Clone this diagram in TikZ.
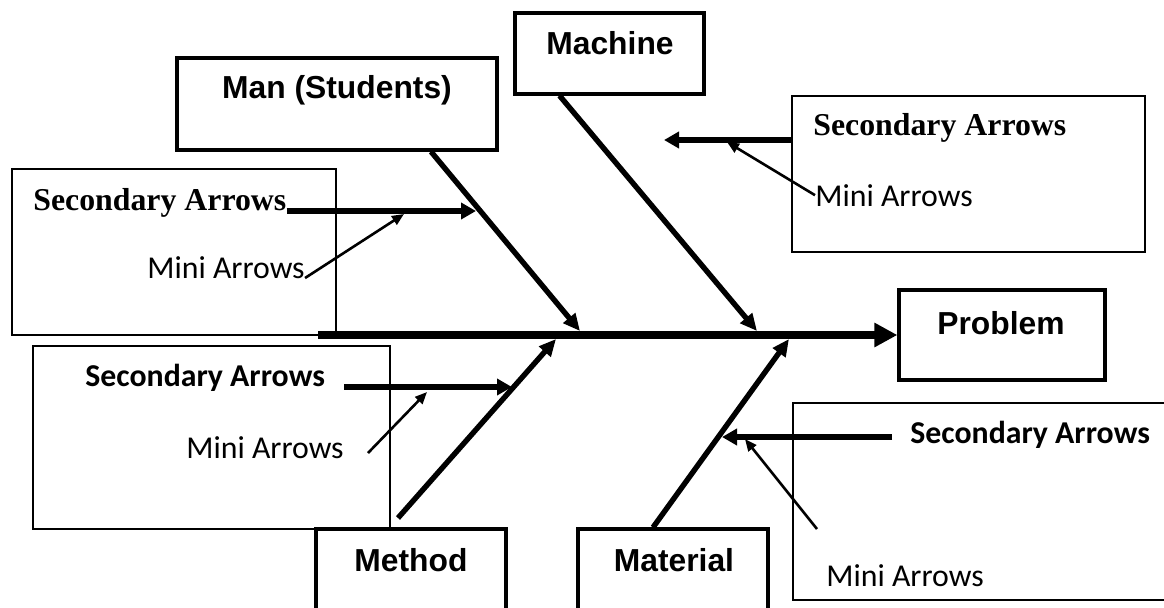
\documentclass[tikz,border=0pt]{standalone}
\usepackage{fontspec}
\newfontfamily\headfont{Liberation Sans}
\newfontfamily\serifhead{Liberation Serif}
\newfontfamily\calibri{Carlito}
\usetikzlibrary{arrows.meta,fit,calc}

\begin{document}
\begin{tikzpicture}[
    x=0.5pt, y=-0.5pt,
    catbox/.style={draw, line width=1.6pt, inner sep=0pt},
    notebox/.style={draw, line width=0.7pt, inner sep=0pt},
    cattext/.style={font=\headfont\bfseries\fontsize{15.9}{19}\selectfont, inner sep=0pt},
    secserif/.style={font=\serifhead\bfseries\fontsize{15.9}{19}\selectfont, inner sep=0pt, anchor=base west},
    secsans/.style={font=\calibri\bfseries\fontsize{15.9}{19}\selectfont, inner sep=0pt, anchor=base west},
    minitext/.style={font=\calibri\fontsize{15.9}{19}\selectfont, inner sep=0pt, anchor=base west},
    spine/.style={-{Triangle[length=11.5pt,width=11.5pt]}, line width=3.7pt},
    bone/.style={-{Triangle[length=8.5pt,width=7.5pt]}, line width=2.7pt},
    secarrow/.style={-{Triangle[length=7.5pt,width=8pt]}, line width=2.8pt},
    miniarrow/.style={-{Triangle[length=6pt,width=5pt]}, line width=1.3pt}
]
\useasboundingbox (0,0) rectangle (1164,607);
\clip (0,0) rectangle (1164,607);

\node[notebox, fit={(12,169) (336,335)}] (boxTL) {};
\node[notebox, fit={(792,96) (1145,252)}] (boxTR) {};
\node[notebox, fit={(33,346) (390,529)}] (boxLL) {};
\node[notebox, fit={(793,403) (1200,600)}] (boxLR) {};

\node[catbox, fit={(177,58) (497,150)}] (man) {};
\node[catbox, fit={(515,13) (704,94)}] (machine) {};
\node[catbox, fit={(899,290) (1105,380)}] (problem) {};
\node[catbox, fit={(316,529) (506,640)}] (method) {};
\node[catbox, fit={(578,529) (768,640)}] (material) {};

\node[cattext] (mantext) at (337,90) {Man (Students)};
\node[cattext] (machinetext) at (610,43) {Machine};
\node[cattext] (problemtext) at (1001,323) {Problem};
\node[cattext] (methodtext) at (411,560) {Method};
\node[cattext] (materialtext) at (674,560) {Material};

\node[secserif] (secTL) at (33,210) {Secondary Arrows};
\node[secserif] (secTR) at (813,135) {Secondary Arrows};
\node[secsans] (secLL) at (85,386) {Secondary Arrows};
\node[secsans] (secLR) at (910,443) {Secondary Arrows};
\node[minitext] (miniTL) at (147,278) {Mini Arrows};
\node[minitext] (miniTR) at (815,206) {Mini Arrows};
\node[minitext] (miniLL) at (186,458) {Mini Arrows};
\node[minitext] (miniLR) at (826,586) {Mini Arrows};

\coordinate (spinetail) at (318,335);
\coordinate (manhead) at (580,331);
\coordinate (machinehead) at (757,331);
\coordinate (methodfoot) at (398,518);
\coordinate (methodhead) at (556,339);
\coordinate (materialhead) at (789,339);

\draw[spine] (spinetail) -- (problem.west);
\draw[bone] ($(man.south)+(94,0)$) -- (manhead);
\draw[bone] ($(machine.south)+(-50,0)$) -- (machinehead);
\draw[bone] (methodfoot) -- (methodhead);
\draw[bone] ($(material.north)+(-20,0)$) -- (materialhead);

\coordinate (manS) at (476,211);
\coordinate (machineS) at (664,140);
\coordinate (methodS) at (512,387);
\coordinate (materialS) at (722,437);

\draw[secarrow] (secTL.base east |- manS) -- (manS);
\draw[secarrow] (boxTR.west |- machineS) -- (machineS);
\draw[secarrow] (344,387) coordinate (secLLstart) -- (methodS);
\draw[secarrow] (892,437) coordinate (secLRstart) -- (materialS);

\draw[miniarrow] (miniTL.base east) -- (404,214) coordinate (manM);
\draw[miniarrow] (miniTR.west) -- (727,142) coordinate (machineM);
\draw[miniarrow] (368,453) coordinate (miniLLstart) -- (427,392) coordinate (methodM);
\draw[miniarrow] (817,529) coordinate (miniLRstart) -- (745,439) coordinate (materialM);
\end{tikzpicture}
\end{document}
